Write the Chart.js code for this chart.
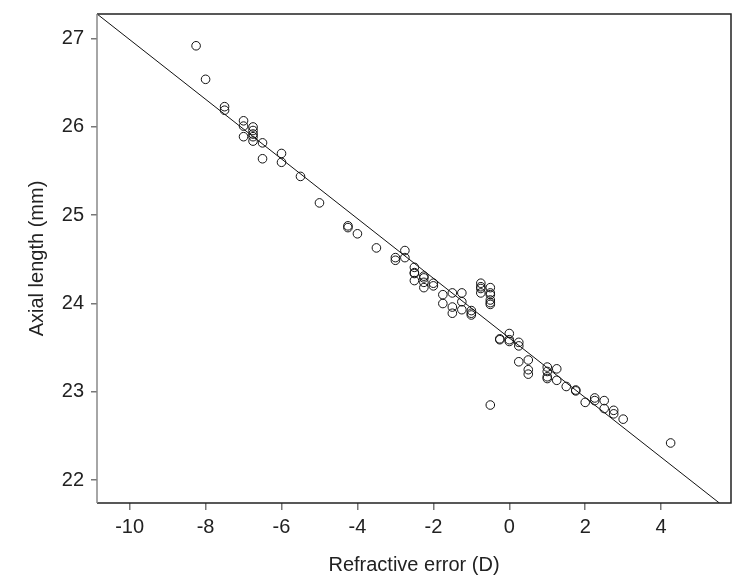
<!DOCTYPE html>
<html>
<head>
<meta charset="utf-8">
<script src="https://cdn.jsdelivr.net/npm/chart.js@4.4.1/dist/chart.umd.min.js"></script>
<style>
  html, body { margin: 0; padding: 0; background: #fff; }
  canvas { display: block; }
</style>
</head>
<body>
<canvas id="c" width="745" height="580"></canvas>
<script>
// Data
const refractiveError = [
  -8.25, -8.0, -7.5, -7.5, -7.0, -7.0, -7.0, -6.75, -6.75, -6.75, -6.75, -6.75,
  -6.5, -6.5, -6.0, -6.0, -5.5, -5.0, -4.25, -4.25, -4.0, -3.5, -3.0, -3.0,
  -2.75, -2.75, -2.5, -2.5, -2.5, -2.5, -2.25, -2.25, -2.25, -2.25, -2.0, -2.0,
  -1.75, -1.75, -1.5, -1.5, -1.5, -1.25, -1.25, -1.25, -1.0, -1.0, -1.0,
  -0.75, -0.75, -0.75, -0.75, -0.5, -0.5, -0.5, -0.5, -0.5, -0.5, -0.5,
  -0.25, -0.25, 0, 0, 0, 0.25, 0.25, 0.25, 0.5, 0.5, 0.5,
  1.0, 1.0, 1.0, 1.0, 1.25, 1.25, 1.5, 1.75, 1.75, 2.0, 2.25, 2.25,
  2.5, 2.5, 2.75, 2.75, 3.0, 4.25
];
const axialLength = [
  26.92, 26.54, 26.23, 26.19, 26.07, 26.01, 25.89, 26.00, 25.96, 25.92, 25.89, 25.84,
  25.82, 25.64, 25.70, 25.60, 25.44, 25.14, 24.88, 24.86, 24.79, 24.63, 24.52, 24.49,
  24.60, 24.52, 24.41, 24.35, 24.34, 24.26, 24.31, 24.29, 24.24, 24.18, 24.23, 24.20,
  24.10, 24.00, 24.12, 23.96, 23.89, 24.12, 24.02, 23.93, 23.92, 23.89, 23.87,
  24.23, 24.19, 24.17, 24.12, 24.18, 24.12, 24.10, 24.04, 24.01, 23.99, 22.85,
  23.60, 23.59, 23.66, 23.59, 23.57, 23.56, 23.52, 23.34, 23.36, 23.25, 23.20,
  23.28, 23.23, 23.17, 23.15, 23.26, 23.13, 23.06, 23.02, 23.01, 22.88, 22.93, 22.90,
  22.90, 22.81, 22.79, 22.75, 22.69, 22.42
];
// Fitted regression line
const fitIntercept = 23.61;
const fitSlope = -0.338;
const fitXRange = [-10.86, 5.54];

const xTickValues = [-10, -8, -6, -4, -2, 0, 2, 4];
const yTickValues = [22, 23, 24, 25, 26, 27];
const xAxisRange = [-10.86, 5.84];
const yAxisRange = [21.74, 27.28];

const xTitle = 'Refractive error (D)';
const yTitle = 'Axial length (mm)';

const points = refractiveError.map((x, i) => ({ x: x, y: axialLength[i] }));
const fitLine = fitXRange.map(x => ({ x: x, y: fitIntercept + fitSlope * x }));

const FONT = "'Liberation Sans', Arial, Helvetica, sans-serif";
const TEXT = '#222';
const TICK = '#777';

const boxPlugin = {
  id: 'box',
  afterDraw(chart) {
    const { ctx, chartArea: a } = chart;
    ctx.save();
    ctx.strokeStyle = '#222';
    ctx.lineWidth = 1.5;
    ctx.beginPath();
    ctx.moveTo(a.left, a.top);
    ctx.lineTo(a.right, a.top);
    ctx.lineTo(a.right, a.bottom);
    ctx.lineTo(a.left, a.bottom);
    ctx.stroke();
    ctx.strokeStyle = '#888';
    ctx.beginPath();
    ctx.moveTo(a.left, a.top);
    ctx.lineTo(a.left, a.bottom);
    ctx.stroke();
    ctx.restore();
  }
};

new Chart(document.getElementById('c'), {
  type: 'scatter',
  data: {
    datasets: [
      {
        type: 'line',
        data: fitLine,
        borderColor: '#111',
        borderWidth: 1,
        pointRadius: 0,
        fill: false,
        tension: 0,
        order: 2
      },
      {
        data: points,
        pointRadius: 4.3,
        pointBorderWidth: 1,
        pointBorderColor: '#111',
        pointBackgroundColor: 'rgba(0,0,0,0)',
        order: 1
      }
    ]
  },
  plugins: [boxPlugin],
  options: {
    responsive: false,
    animation: false,
    devicePixelRatio: 1,
    layout: { padding: { left: 0, right: 14, top: 14, bottom: 0 } },
    plugins: { legend: { display: false }, tooltip: { enabled: false } },
    scales: {
      x: {
        type: 'linear',
        min: xAxisRange[0],
        max: xAxisRange[1],
        afterFit(scale) {
          scale.height = 77;
          scale.paddingLeft = 0; scale.paddingRight = 0;
        },
        afterBuildTicks(scale) { scale.ticks = xTickValues.map(v => ({ value: v })); },
        ticks: {
          includeBounds: false,
          padding: 5,
          color: TEXT,
          font: { family: FONT, size: 20 },
          callback: v => String(v)
        },
        grid: { drawOnChartArea: false, drawTicks: true, tickLength: 7, color: TICK, lineWidth: 1.5 },
        border: { display: false },
        title: {
          display: true,
          text: xTitle,
          color: TEXT,
          font: { family: FONT, size: 20 },
          padding: { top: 0, bottom: 3 }
        }
      },
      y: {
        type: 'linear',
        min: yAxisRange[0],
        max: yAxisRange[1],
        afterFit(scale) {
          scale.width = 97;
          scale.paddingTop = 0; scale.paddingBottom = 0;
        },
        afterBuildTicks(scale) { scale.ticks = yTickValues.map(v => ({ value: v })); },
        ticks: {
          includeBounds: false,
          padding: 7,
          color: TEXT,
          font: { family: FONT, size: 20 },
          callback: v => String(v)
        },
        grid: { drawOnChartArea: false, drawTicks: true, tickLength: 6, color: TICK, lineWidth: 1.5 },
        border: { display: false },
        title: {
          display: true,
          text: yTitle,
          color: TEXT,
          font: { family: FONT, size: 20 },
          padding: { top: 25, bottom: 0 }
        }
      }
    }
  }
});
</script>
</body>
</html>
